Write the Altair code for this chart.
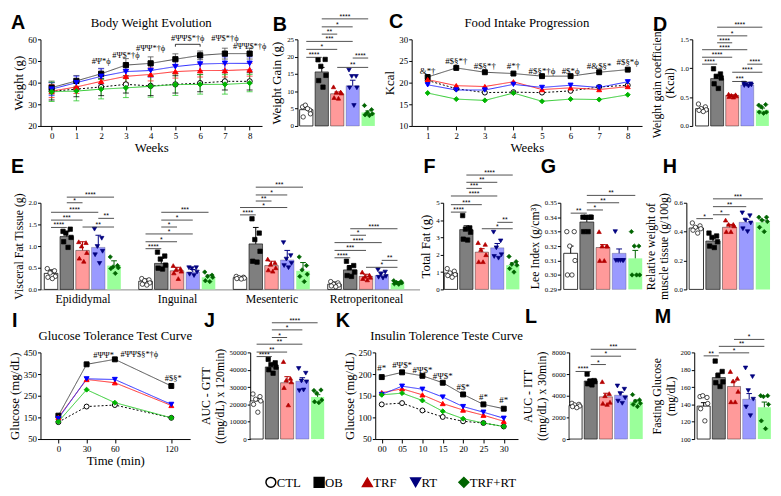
import altair as alt
import pandas as pd

GROUPS = ["CTL", "OB", "TRF", "RT", "TRF+RT"]

# ---------------- A: body weight evolution ----------------
A_WEEKS = [0, 1, 2, 3, 4, 5, 6, 7, 8]
A_CTL = [36.0, 37.0, 38.0, 39.2, 38.5, 39.2, 39.8, 40.6, 40.6]
A_OB = [37.7, 40.8, 44.1, 48.1, 48.9, 50.8, 52.6, 53.4, 53.4]
A_TRF = [36.1, 38.0, 40.6, 42.9, 43.8, 45.1, 45.6, 45.6, 46.0]
A_RT = [37.0, 40.0, 42.9, 45.1, 45.6, 47.4, 48.6, 48.9, 48.9]
A_TR = [35.8, 36.1, 37.0, 37.6, 38.3, 39.1, 39.2, 39.2, 39.8]
A_SD_CTL = [4.0, 3.5, 4.0, 4.0, 4.5, 4.0, 4.0, 4.0, 4.0]
A_SD_OB = [3.0, 2.5, 2.5, 3.0, 3.0, 2.5, 2.0, 2.5, 2.5]
A_SD_TRF = [3.0, 3.0, 3.0, 3.0, 3.0, 3.0, 3.0, 3.0, 3.0]
A_SD_RT = [3.0, 3.0, 3.5, 3.0, 3.0, 3.0, 3.0, 3.0, 3.0]
A_SD_TR = [4.5, 4.5, 4.5, 4.5, 5.0, 5.0, 4.5, 4.5, 4.0]
A_ANN_X = [2, 3, 4, 5.5, 7, 8]
A_ANN_Y = [50.0, 52.7, 55.8, 60.8, 60.8, 56.9]
A_ANN_T = ["#Ψ*ϕ", "#Ψ$*†ϕ", "#ΨΨ*†ϕ", "#ΨΨ$*†ϕ", "#Ψ$*†ϕ", "#ΨΨ$*†ϕ"]
A_BRK = [5, 6, 57.7, 56.6]

# ---------------- B: weight gain ----------------
B_PTS = [[5.5, 4.6, 6.0, 3.5, 2.6, 5.0], [19.1, 19.2, 17.2, 14.6, 13.1, 11.2],
         [11.3, 9.8, 9.7, 9.5, 8.2, 8.0], [16.1, 14.3, 14.3, 11.0, 11.0, 5.9],
         [5.9, 4.7, 3.8, 3.5, 3.2, 3.0]]
B_MEAN = [4.7, 15.6, 9.3, 11.6, 3.9]
B_ERR = [0.6, 1.3, 0.5, 1.6, 0.45]
B_BRK = [(0, 1, 19.8, "****"), (0, 2, 22.1, "*"), (0, 3, 24.4, "***"), (1, 2, 26.5, "**"),
         (1, 3, 28.6, "*"), (1, 4, 30.9, "****"), (2, 4, 16.9, "**"), (3, 4, 19.6, "****")]

# ---------------- C: food intake ----------------
C_WEEKS = [1, 2, 3, 4, 5, 6, 7, 8]
C_CTL = [20.5, 18.6, 17.7, 17.8, 17.7, 18.1, 19.0, 19.4]
C_OB = [21.3, 23.4, 22.4, 22.1, 21.5, 21.5, 22.4, 23.0]
C_TRF = [20.7, 19.3, 19.1, 20.2, 18.4, 18.8, 18.4, 19.1]
C_RT = [19.5, 18.3, 18.3, 19.6, 18.9, 19.4, 18.9, 20.2]
C_TR = [17.6, 16.2, 15.9, 17.6, 15.7, 16.2, 16.1, 17.2]
C_ANN_Y = [22.7, 25.0, 23.9, 23.9, 22.7, 22.7, 23.9, 24.8]
C_ANN_T = ["&*†", "#$§*†", "#$§*†", "#*†", "#$§*†ϕ", "#$*ϕ", "#&$§*", "#$§*ϕ"]

# ---------------- D: weight gain coefficient ----------------
D_PTS = [[0.38, 0.33, 0.30, 0.28, 0.27, 0.25], [0.99, 0.90, 0.86, 0.83, 0.73, 0.65],
         [0.55, 0.54, 0.53, 0.52, 0.51, 0.50], [0.74, 0.73, 0.72, 0.71, 0.70, 0.69],
         [0.36, 0.37, 0.33, 0.24, 0.24, 0.22]]
D_MEAN = [0.30, 0.82, 0.53, 0.71, 0.28]
D_ERR = [0.02, 0.05, 0.01, 0.01, 0.03]
D_BRK = [(1, 4, 1.71, "****"), (1, 3, 1.56, "*"), (1, 2, 1.44, "****"), (0, 3, 1.32, "****"),
         (0, 2, 1.19, "****"), (0, 1, 1.07, "****"), (3, 4, 1.07, "****"), (2, 4, 0.93, "****"),
         (2, 3, 0.77, "***")]

# ---------------- E: visceral fat ----------------
E_NAMES = ["Epididymal", "Inguinal", "Mesenteric", "Retroperitoneal"]
E_PTS = [
    [[0.48, 0.43, 0.38, 0.30, 0.28, 0.25], [1.34, 1.39, 1.30, 1.20, 1.10, 0.97],
     [1.10, 1.08, 1.00, 0.85, 0.72, 0.65], [1.39, 1.18, 0.99, 0.88, 0.80, 0.60],
     [0.75, 0.55, 0.52, 0.50, 0.48, 0.37]],
    [[0.25, 0.22, 0.20, 0.15, 0.12, 0.10], [0.86, 0.77, 0.70, 0.56, 0.49, 0.47],
     [0.55, 0.48, 0.46, 0.42, 0.38, 0.25], [0.50, 0.50, 0.48, 0.40, 0.35, 0.32],
     [0.40, 0.33, 0.30, 0.28, 0.20, 0.18]],
    [[0.30, 0.28, 0.27, 0.26, 0.25, 0.24], [1.63, 1.30, 1.15, 0.88, 0.65, 0.63],
     [0.70, 0.62, 0.58, 0.50, 0.45, 0.42], [1.08, 0.78, 0.70, 0.60, 0.55, 0.50],
     [0.75, 0.55, 0.45, 0.35, 0.30, 0.18]],
    [[0.18, 0.15, 0.12, 0.10, 0.08, 0.06], [0.65, 0.55, 0.50, 0.40, 0.32, 0.30],
     [0.40, 0.33, 0.30, 0.28, 0.25, 0.22], [0.45, 0.40, 0.35, 0.30, 0.28, 0.26],
     [0.20, 0.18, 0.16, 0.15, 0.13, 0.12]],
]
E_MEAN = [[0.37, 1.22, 0.90, 0.97, 0.55], [0.19, 0.60, 0.43, 0.40, 0.28],
          [0.27, 1.05, 0.55, 0.68, 0.43], [0.12, 0.45, 0.30, 0.32, 0.15]]
E_ERR = [[0.08, 0.11, 0.20, 0.28, 0.11], [0.05, 0.12, 0.08, 0.06, 0.05],
         [0.02, 0.38, 0.10, 0.22, 0.19], [0.05, 0.10, 0.05, 0.08, 0.03]]
E_BRK = [
    [(0, 1, 1.43, "****"), (0, 2, 1.60, "***"), (0, 3, 1.78, "****"), (1, 2, 2.00, "*"),
     (1, 4, 2.13, "****"), (2, 4, 1.44, "**"), (3, 4, 1.64, "**")],
    [(0, 1, 0.94, "****"), (0, 2, 1.10, "*"), (0, 3, 1.28, "*"), (1, 2, 1.44, "*"),
     (1, 3, 1.60, "*"), (1, 4, 1.78, "***")],
    [(0, 1, 1.72, "****"), (0, 3, 1.89, "*"), (1, 2, 2.04, "**"), (1, 3, 2.18, "*"),
     (1, 4, 2.36, "***")],
    [(0, 1, 0.73, "****"), (0, 2, 0.90, "***"), (0, 3, 1.08, "****"), (1, 2, 1.25, "*"),
     (1, 4, 1.40, "****"), (3, 4, 0.67, "**"), (2, 4, 0.51, "*")],
]

# ---------------- F: total fat ----------------
F_PTS = [[1.2, 1.05, 0.95, 0.85, 0.8, 0.7], [4.26, 3.55, 3.48, 3.3, 2.9, 2.85],
         [2.7, 2.6, 2.3, 2.0, 1.6, 1.6], [3.3, 2.8, 2.4, 2.0, 1.9, 1.8],
         [1.9, 1.6, 1.45, 1.4, 1.2, 1.0]]
F_MEAN = [0.94, 3.45, 2.15, 2.4, 1.4]
F_ERR = [0.07, 0.22, 0.2, 0.25, 0.13]
F_BRK = [(0, 1, 4.46, "****"), (0, 2, 4.89, "***"), (0, 3, 5.39, "****"), (1, 2, 5.83, "***"),
         (1, 3, 6.18, "**"), (1, 4, 6.6, "****"), (2, 4, 3.5, "*"), (3, 4, 3.87, "**")]

# ---------------- G: Lee index ----------------
G_PTS = [[0.33, 0.33, 0.32, 0.31, 0.30, 0.30], [0.34, 0.34, 0.34, 0.34, 0.33, 0.33],
         [0.33, 0.32, 0.32, 0.32, 0.31, 0.31], [0.33, 0.31, 0.31, 0.31, 0.31, 0.31],
         [0.33, 0.32, 0.32, 0.30, 0.30, 0.30]]
G_MEAN = [0.315, 0.3367, 0.319, 0.315, 0.3115]
G_ERR = [0.005, 0.002, 0.002, 0.003, 0.0055]
G_BRK = [(0, 1, 0.3428, "**"), (1, 2, 0.345, "*"), (1, 3, 0.35, "**"), (1, 4, 0.3551, "**")]

# ---------------- H: muscle tissue ----------------
H_PTS = [[0.46, 0.44, 0.43, 0.42, 0.41, 0.39], [0.39, 0.37, 0.36, 0.33, 0.30, 0.29],
         [0.48, 0.45, 0.45, 0.44, 0.40, 0.40], [0.53, 0.51, 0.48, 0.46, 0.42, 0.40],
         [0.50, 0.50, 0.48, 0.47, 0.43, 0.40]]
H_MEAN = [0.425, 0.335, 0.43, 0.465, 0.465]
H_ERR = [0.01, 0.02, 0.02, 0.02, 0.015]
H_BRK = [(0, 1, 0.49, "*"), (1, 2, 0.517, "*"), (1, 3, 0.573, "**"), (1, 4, 0.627, "***")]

# ---------------- I: GTT ----------------
I_T = [0, 30, 60, 120]
I_CTL = [128, 200, 207, 148]
I_OB = [158, 395, 418, 295]
I_TRF = [150, 325, 310, 205]
I_RT = [145, 328, 325, 210]
I_TR = [130, 278, 218, 148]
I_ANN_X = [48, 86, 122]
I_ANN_Y = [440, 444, 333]
I_ANN_T = ["#ΨΨ*", "#ΨΨ$§*†ϕ", "#$§*"]

# ---------------- J: AUC GTT ----------------
J_PTS = [[26000, 24500, 23000, 22000, 20000, 15500], [46000, 44000, 43000, 41500, 40000, 38000],
         [44700, 35000, 34000, 33000, 29700, 19700], [40700, 38000, 33500, 33000, 27900, 28300],
         [28000, 28300, 26500, 22500, 21500, 21000]]
J_MEAN = [22000, 41600, 32500, 33400, 24300]
J_ERR = [1500, 1200, 3500, 2000, 1300]
J_BRK = [(0, 1, 47600, "****"), (0, 2, 50200, "**"), (0, 3, 54750, "**"), (1, 2, 58600, "*"),
         (1, 3, 63000, "*"), (1, 4, 67100, "****")]

# ---------------- K: ITT ----------------
K_T = [0, 5, 10, 15, 20, 25, 30]
K_CTL = [130, 133, 116, 101, 91, 87, 79]
K_OB = [193, 204, 196, 180, 153, 130, 120]
K_TRF = [157, 166, 152, 132, 117, 105, 91]
K_RT = [153, 172, 165, 147, 125, 112, 98]
K_TR = [152, 156, 139, 114, 97, 87, 79]
K_ANN_Y = [213, 220, 210, 196, 170, 148, 141]
K_ANN_T = ["#*", "#Ψ$*", "#Ψ$*", "#Ψ$*", "#$*", "#*", "#*"]

# ---------------- L: AUC ITT ----------------
L_PTS = [[3300, 3200, 3150, 3050, 3000, 2900], [6000, 5400, 5350, 5300, 5100, 5000],
         [5300, 4200, 4000, 3400, 3300, 3200], [4900, 4600, 4200, 3800, 3500, 3300],
         [4100, 3600, 3500, 3300, 3200, 3000]]
L_MEAN = [3100, 5360, 3900, 4050, 3450]
L_ERR = [80, 170, 330, 270, 150]
L_BRK = [(0, 1, 6240, "****"), (1, 2, 6880, "*"), (1, 3, 7650, "*"), (1, 4, 8290, "***")]

# ---------------- M: fasting glucose ----------------
M_PTS = [[149, 148, 150, 141, 135, 121], [190, 178, 173.5, 166, 165, 160.7],
         [178, 170, 167, 155, 143, 143], [182, 172, 156, 146, 137, 127],
         [150, 150, 149, 140, 121, 112]]
M_MEAN = [138, 171, 160.7, 146, 136.7]
M_ERR = [4, 5, 6, 6.5, 6]
M_BRK = [(0, 1, 196, "**"), (1, 3, 199.5, "*"), (1, 4, 207, "**"), (2, 4, 215, "*")]

# ---------------- styles ----------------
SER = "Liberation Serif"
SAN = "Liberation Sans"
BAR_FILL = ["#ffffff", "#7f7f7f", "#ff9a9a", "#9a9aff", "#9aff9a"]
DOT_FILL = ["#ffffff", "#000000", "#b40000", "#00007f", "#006400"]
DOT_STROKE = ["#000000", "#000000", "#b40000", "#00007f", "#006400"]
SHAPES = ["circle", "square", "triangle-up", "triangle-down", "diamond"]
LINE_COL = ["#000000", "#4d4d4d", "#ff2a2a", "#2a2aff", "#2ac82a"]
PT_FILL = ["#ffffff", "#000000", "#ff0000", "#0000ff", "#00b400"]
PT_STROKE = ["#000000", "#000000", "#ff0000", "#0000ff", "#00b400"]
DASHES = [[2, 2], [1, 0], [1, 0], [1, 0], [1, 0]]
JIT = [-0.24, 0.22, -0.06, 0.27, -0.2, 0.08]
H_ROW = 88


def gscale(rng):
    return alt.Scale(domain=GROUPS, range=rng)


def text_layer(text, x, y, size, font=SER, weight="normal", align="left"):
    return alt.Chart(pd.DataFrame({"t": [text]})).mark_text(
        font=font, fontSize=size, fontWeight=weight, align=align, baseline="alphabetic", color="#000"
    ).encode(x=alt.value(x), y=alt.value(y), text="t:N")


def yax(title, values, fmt, lsize=7, tsize=12, tpad=3):
    return alt.Axis(title=title, values=values, format=fmt, grid=False, domainColor="#000",
                    tickColor="#000", tickSize=3, labelFont=SER, labelFontSize=lsize,
                    labelColor="#000", labelPadding=1, titleFont=SER, titleFontSize=tsize,
                    titleFontWeight="normal", titleColor="#000", titlePadding=tpad,
                    labelOverlap=False)


def spacer(w, h=H_ROW):
    return alt.Chart(pd.DataFrame({"s": [0]})).mark_point(opacity=0, size=1).encode(
        x=alt.value(0), y=alt.value(0)).properties(width=w, height=h)


def bar_panel(sets, ydom, yticks, yfmt, ytitle, letter, lpos, w, xdom, xaxis=None, tsize=12):
    bars, pts, brk = [], [], []
    for off, P, M, E, BK in sets:
        for gi, g in enumerate(GROUPS):
            xc = off + gi
            bars.append({"group": g, "xc": xc, "x0": xc - 0.43, "x1": xc + 0.43,
                         "c0": xc - 0.18, "c1": xc + 0.18, "m": M[gi], "top": M[gi] + E[gi]})
            for ri, v in enumerate(P[gi]):
                pts.append({"group": g, "x": xc + JIT[ri % len(JIT)], "v": v})
        for a, b, yv, lab in BK:
            brk.append({"a": off + a, "b": off + b, "mid": off + (a + b) / 2, "y": yv, "lab": lab})
    db, dp, dk = pd.DataFrame(bars), pd.DataFrame(pts), pd.DataFrame(brk)
    xs = alt.Scale(domain=list(xdom), nice=False, zero=False)
    ys = alt.Scale(domain=list(ydom), nice=False, zero=False)
    ya = yax(ytitle, yticks, yfmt, tsize=tsize)

    def X(f):
        return alt.X(f, type="quantitative", scale=xs, axis=xaxis)

    def Y(f):
        return alt.Y(f, type="quantitative", scale=ys, axis=ya)

    def stroke_enc():
        return alt.Stroke("group:N", scale=gscale(DOT_STROKE), legend=None)

    lb = alt.Chart(db).mark_bar(stroke="#000", strokeWidth=0.8).encode(
        x=X("x0"), x2="x1:Q", y=Y("m"), y2=alt.Y2(datum=ydom[0]),
        color=alt.Color("group:N", scale=gscale(BAR_FILL), legend=None),
        strokeOpacity=alt.StrokeOpacity("group:N", scale=alt.Scale(domain=GROUPS, range=[1, 0, 0, 0, 0]),
                                        legend=None))
    le = alt.Chart(db).mark_rule(strokeWidth=1).encode(x=X("xc"), y=Y("m"), y2="top:Q", stroke=stroke_enc())
    lc = alt.Chart(db).mark_rule(strokeWidth=1).encode(x=X("c0"), x2="c1:Q", y=Y("top"), stroke=stroke_enc())
    ld = alt.Chart(dp).mark_point(filled=True, size=20, strokeWidth=0.7, opacity=1).encode(
        x=X("x"), y=Y("v"),
        shape=alt.Shape("group:N", scale=gscale(SHAPES), legend=None),
        fill=alt.Fill("group:N", scale=gscale(DOT_FILL), legend=None),
        stroke=stroke_enc())
    lk = alt.Chart(dk).mark_rule(strokeWidth=0.8, color="#222").encode(x=X("a"), x2="b:Q", y=Y("y"))
    lt = alt.Chart(dk).mark_text(font=SAN, fontSize=7, baseline="alphabetic", color="#000").encode(
        x=X("mid"), y=Y("y"), text="lab:N")
    lt_letter = text_layer(letter, lpos[0], lpos[1], 20, SAN, "bold")
    return alt.layer(lb, le, lc, ld, lk, lt, lt_letter).properties(width=w, height=H_ROW)


def line_panel(xv, series, sds, xdom, xticks, xfmt, ydom, yticks, xtitle, ytitle,
               ann, title, letter, lpos, w, psize, asize=9, capw=0.12, extra=None):
    rows = []
    for gi, g in enumerate(GROUPS):
        for xi, xval in enumerate(xv):
            r = {"group": g, "x": xval, "v": series[gi][xi]}
            if sds is not None:
                s = sds[gi][xi]
                r.update(lo=r["v"] - s, hi=r["v"] + s, c0=xval - capw, c1=xval + capw)
            rows.append(r)
    d = pd.DataFrame(rows)
    xs = alt.Scale(domain=list(xdom), nice=False, zero=False)
    ys = alt.Scale(domain=list(ydom), nice=False, zero=False)
    xa = alt.Axis(title=xtitle, values=xticks, format=xfmt, grid=False, labelFlush=False,
                  labelOverlap=False, domainColor="#000", tickColor="#000", tickSize=4,
                  labelFont=SER, labelFontSize=9, labelColor="#000", labelPadding=2,
                  titleFont=SER, titleFontSize=13, titleFontWeight="normal", titleColor="#000",
                  titlePadding=1)
    ya = yax(ytitle, yticks, "d", lsize=9, tsize=13, tpad=2)

    def X(f):
        return alt.X(f, type="quantitative", scale=xs, axis=xa)

    def Y(f):
        return alt.Y(f, type="quantitative", scale=ys, axis=ya)

    col = alt.Color("group:N", scale=gscale(LINE_COL), legend=None)
    layers = []
    if sds is not None:
        layers.append(alt.Chart(d).mark_rule(strokeWidth=0.8).encode(x=X("x"), y=Y("lo"), y2="hi:Q", color=col))
        layers.append(alt.Chart(d).mark_rule(strokeWidth=0.8).encode(x=X("c0"), x2="c1:Q", y=Y("lo"), color=col))
        layers.append(alt.Chart(d).mark_rule(strokeWidth=0.8).encode(x=X("c0"), x2="c1:Q", y=Y("hi"), color=col))
    layers.append(alt.Chart(d).mark_line(strokeWidth=1).encode(
        x=X("x"), y=Y("v"), color=col,
        strokeDash=alt.StrokeDash("group:N", scale=gscale(DASHES), legend=None)))
    layers.append(alt.Chart(d).mark_point(filled=True, size=psize, strokeWidth=1, opacity=1).encode(
        x=X("x"), y=Y("v"),
        shape=alt.Shape("group:N", scale=gscale(SHAPES), legend=None),
        fill=alt.Fill("group:N", scale=gscale(PT_FILL), legend=None),
        stroke=alt.Stroke("group:N", scale=gscale(PT_STROKE), legend=None)))
    da = pd.DataFrame({"x": ann[0], "y": ann[1], "t": ann[2]})
    layers.append(alt.Chart(da).mark_text(font=SER, fontSize=asize, color="#000").encode(
        x=X("x"), y=Y("y"), text="t:N"))
    if extra is not None:
        a, b, yv, y2v = extra
        dbk = pd.DataFrame({"a": [a], "b": [b], "y": [yv], "y2": [y2v]})
        layers.append(alt.Chart(dbk).mark_rule(strokeWidth=0.8, color="#000").encode(x=X("a"), x2="b:Q", y=Y("y")))
        layers.append(alt.Chart(dbk).mark_rule(strokeWidth=0.8, color="#000").encode(x=X("a"), y=Y("y"), y2="y2:Q"))
        layers.append(alt.Chart(dbk).mark_rule(strokeWidth=0.8, color="#000").encode(x=X("b"), y=Y("y"), y2="y2:Q"))
    layers.append(text_layer(title, w / 2, -13, 13, SER, align="center"))
    layers.append(text_layer(letter, lpos[0], lpos[1], 20, SAN, "bold"))
    return alt.layer(*layers).properties(width=w, height=H_ROW)


RES = dict(color="independent", fill="independent", stroke="independent", shape="independent",
           strokeDash="independent", strokeOpacity="independent")


def row(*charts):
    return alt.hconcat(*charts, spacing=0, bounds="flush").resolve_scale(**RES)


pA = line_panel(A_WEEKS, [A_CTL, A_OB, A_TRF, A_RT, A_TR],
                [A_SD_CTL, A_SD_OB, A_SD_TRF, A_SD_RT, A_SD_TR],
                (-0.45, 8.5), A_WEEKS, "d", (20, 60), [20, 30, 40, 50, 60], "Weeks", "Weight (g)",
                (A_ANN_X, A_ANN_Y, A_ANN_T), "Body Weight Evolution", "A", (-30, -10), 225, 28,
                asize=8.5, extra=A_BRK)
pB = bar_panel([(0, B_PTS, B_MEAN, B_ERR, B_BRK)], (0, 25), [0, 5, 10, 15, 20, 25], "d",
               "Weight Gain (g)", "B", (-25, -8), 80, (-0.57, 4.52), tsize=13)
pC = line_panel(C_WEEKS, [C_CTL, C_OB, C_TRF, C_RT, C_TR], None,
                (0.44, 8.5), C_WEEKS, "d", (10, 30), [10, 15, 20, 25, 30], "Weeks", "Kcal",
                (C_WEEKS, C_ANN_Y, C_ANN_T), "Food Intake Progression", "C", (-23, -12), 234, 25)
pD = bar_panel([(0, D_PTS, D_MEAN, D_ERR, D_BRK)], (0, 1.5), [0, 0.5, 1.0, 1.5], ".1f",
               ["Weight gain coefficient", "(Kcal)"], "D", (-40, -8), 81, (-0.65, 4.64))

e_expr = "[" + ",".join("'%s'" % n for n in E_NAMES) + "][round((datum.value - 2) / 6)]"
E_XAX = alt.Axis(values=[2, 8, 14, 20], labelExpr=e_expr, title=None, ticks=False, grid=False,
                 domainColor="#888", labelFont=SER, labelFontSize=12, labelColor="#000",
                 labelPadding=4, labelFlush=False, labelOverlap=False)
pE = bar_panel([(6 * c, E_PTS[c], E_MEAN[c], E_ERR[c], E_BRK[c]) for c in range(4)],
               (0, 2.0), [0, 0.5, 1.0, 1.5, 2.0], ".1f", "Visceral Fat Tissue (g)", "E", (-30, -30),
               385, (-0.67, 23.4), xaxis=E_XAX)
pF = bar_panel([(0, F_PTS, F_MEAN, F_ERR, F_BRK)], (0, 5), [0, 1, 2, 3, 4, 5], "d",
               "Total Fat (g)", "F", (-20, -30), 76, (-0.5, 4.34), tsize=13)
pG = bar_panel([(0, G_PTS, G_MEAN, G_ERR, G_BRK)], (0.29, 0.35),
               [0.29, 0.30, 0.31, 0.32, 0.33, 0.34, 0.35], ".2f", "Lee Index (g/cm³)", "G", (-20, -30),
               84, (-0.64, 4.48))
pH = bar_panel([(0, H_PTS, H_MEAN, H_ERR, H_BRK)], (0, 0.6), [0, 0.2, 0.4, 0.6], ".1f",
               ["Relative weight of", "muscle tissue (g/100g)"], "H", (-24, -30), 86, (-0.6, 4.49))

pI = line_panel(I_T, [I_CTL, I_OB, I_TRF, I_RT, I_TR], None,
                (-19, 140), I_T, "d", (50, 450), [50, 150, 250, 350, 450], "Time (min)", "Glucose (mg/dL)",
                (I_ANN_X, I_ANN_Y, I_ANN_T), "Glucose Tolerance Test Curve", "I", (-29, -26), 152, 25,
                asize=8.5)
pJ = bar_panel([(0, J_PTS, J_MEAN, J_ERR, J_BRK)], (0, 50000),
               [0, 10000, 20000, 30000, 40000, 50000], "d", ["AUC - GTT", "((mg/dL) x 120min)"], "J",
               (-47, -26), 77, (-0.42, 4.55))
pK = line_panel(K_T, [K_CTL, K_OB, K_TRF, K_RT, K_TR], None,
                (-1.6, 33.5), K_T, "02d", (50, 250), [50, 100, 150, 200, 250], None, "Glucose (mg/dL)",
                (K_T, K_ANN_Y, K_ANN_T), "Insulin Tolerence Teste Curve", "K", (-40, -26), 145, 25)
pL = bar_panel([(0, L_PTS, L_MEAN, L_ERR, L_BRK)], (0, 8000), [0, 2000, 4000, 6000, 8000], "d",
               ["AUC - ITT", "((mg/dL) x 30min)"], "L", (-45, -30), 75, (-0.42, 4.45))
pM = bar_panel([(0, M_PTS, M_MEAN, M_ERR, M_BRK)], (100, 200), [100, 120, 140, 160, 180, 200], "d",
               ["Fasting Glucose", "(mg/dL)"], "M", (-40, -30), 80, (-0.62, 4.57))

# ---------------- legend row (symbols placed by a point scale over the groups) ----------------
leg_df = pd.DataFrame({"group": GROUPS})
LEG_X = alt.X("group:N", scale=alt.Scale(domain=GROUPS, type="point", padding=0), axis=None)
leg_sym = alt.Chart(leg_df).mark_point(filled=True, size=100, strokeWidth=1.5, opacity=1).encode(
    x=LEG_X, y=alt.value(11),
    shape=alt.Shape("group:N", scale=gscale(SHAPES), legend=None),
    fill=alt.Fill("group:N", scale=gscale(DOT_FILL), legend=None),
    stroke=alt.Stroke("group:N", scale=gscale(DOT_STROKE), legend=None))
leg_txt = alt.Chart(leg_df).mark_text(align="left", baseline="middle", dx=6, font=SER, fontSize=13,
                                      color="#000").encode(x=LEG_X, y=alt.value(12), text="group:N")
leg_chart = alt.layer(leg_sym, leg_txt).properties(width=196, height=18)

row1 = row(pA, spacer(36), pB, spacer(36), pC, spacer(51), pD)
row2 = row(pE, spacer(24), pF, spacer(43), pG, spacer(44), pH)
row3 = row(pI, spacer(61), pJ, spacer(50), pK, spacer(52), pL, spacer(52), pM)
row4 = row(spacer(234, 18), leg_chart)

chart = alt.vconcat(row1, row2, row3, row4, spacing=3).resolve_scale(**RES).properties(
    padding=0).configure_view(stroke=None)

chart.save("out.html", embed_options={"renderer": "svg", "actions": False})
